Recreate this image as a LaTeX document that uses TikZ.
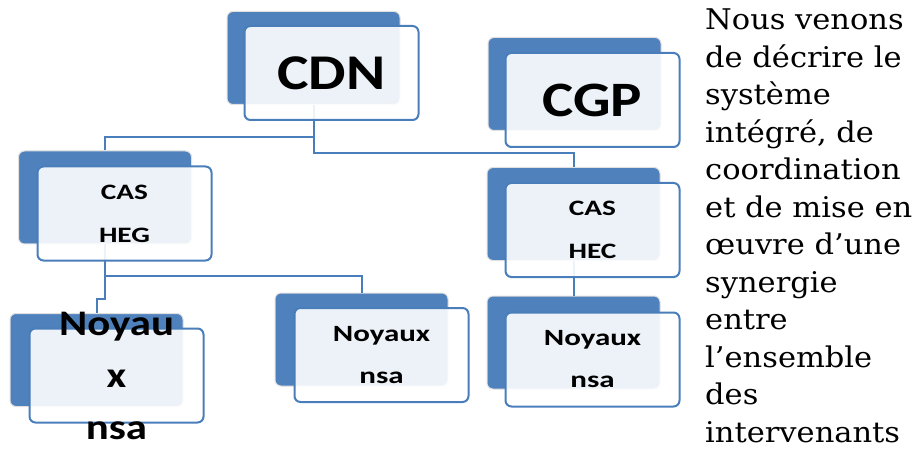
\documentclass[tikz,border=0pt]{standalone}
\usepackage{fontspec}
\newfontfamily\boxfont[FakeStretch=1.33]{Carlito}
\newfontfamily\bigboxfont[FakeStretch=1.19]{Carlito}
\newfontfamily\sidefont[FakeStretch=1.07]{DejaVu Serif}
\definecolor{bk}{HTML}{4F81BD}
\definecolor{ln}{HTML}{4A7EBB}
\tikzset{
  backbox/.style={draw=black!12, line width=1pt, fill=bk, rounded corners=6pt,
    minimum width=173pt, minimum height=93pt, inner sep=0pt},
  frontbox/.style={draw=ln, line width=2pt, fill=white, fill opacity=0.9,
    rounded corners=6pt, minimum width=174pt, minimum height=94pt, inner sep=0pt},
  boxtext/.style={align=center, inner sep=0pt, text=black},
  conn/.style={draw=ln, line width=2pt},
}
\begin{document}
\begin{tikzpicture}[x=1pt,y=-1pt]
\useasboundingbox (0,0) rectangle (920,454);
% back boxes
\node[backbox] (cdnb) at (313.5,58) {};
\node[backbox] (cgpb) at (574.5,84) {};
\node[backbox] (hegb) at (105,197.5) {};
\node[backbox] (hecb) at (573.5,214) {};
\node[backbox] (noyLb) at (96.5,360) {};
\node[backbox] (noyMb) at (361.5,339.5) {};
\node[backbox] (noyRb) at (573.5,342.5) {};
% connectors
\draw[conn] (cdnb.south) -- ++(0,32.5) -| (hegb.north);
\draw[conn] (cdnb.south) -- ++(0,48.5) -| (hecb.north);
\draw[conn] (hegb.south) -- ++(0,31) -| (noyMb.north);
\draw[conn] (hegb.south) -- ++(0,54) -| (noyLb.north);
\draw[conn] (hecb.south) -- (noyRb.north);
% front boxes
\node[frontbox] (cdn) at (331.5,73) {};
\node[frontbox] (cgp) at (592.5,100) {};
\node[frontbox] (heg) at (124.5,213.5) {};
\node[frontbox] (hec) at (592.5,230) {};
\node[frontbox] (noyL) at (116.5,375.5) {};
\node[frontbox] (noyM) at (381.5,355) {};
\node[frontbox] (noyR) at (592.5,359.5) {};
% texts
\node[boxtext, font=\bigboxfont\bfseries\fontsize{50}{55}\selectfont] (cdnt) at (cdn.center) {CDN};
\node[boxtext, font=\bigboxfont\bfseries\fontsize{49.5}{55}\selectfont] (cgpt) at (cgp.center) {CGP};
\node[boxtext, font=\boxfont\bfseries\fontsize{22}{43}\selectfont] (hegt) at (heg.center) {CAS\\HEG};
\node[boxtext, font=\boxfont\bfseries\fontsize{22}{43}\selectfont] (hect) at (hec.center) {CAS\\HEC};
\node[boxtext, font=\bigboxfont\bfseries\fontsize{36}{52}\selectfont] (noyLt) at (noyL.center) {Noyau\\x\\nsa};
\node[boxtext, font=\boxfont\bfseries\fontsize{23.3}{42}\selectfont] (noyMt) at (noyM.center) {Noyaux\\nsa};
\node[boxtext, font=\boxfont\bfseries\fontsize{23.3}{42}\selectfont] (noyRt) at (noyR.center) {Noyaux\\nsa};
% side text
\node[anchor=north west, align=left, inner sep=0pt, font=\sidefont\fontsize{28.5}{37.5}\selectfont] (side) at (705,9)
  {Nous venons\\de décrire le\\système\\intégré, de\\coordination\\et de mise en\\œuvre d’une\\synergie\\entre\\l’ensemble\\des\\intervenants};
\end{tikzpicture}
\end{document}
